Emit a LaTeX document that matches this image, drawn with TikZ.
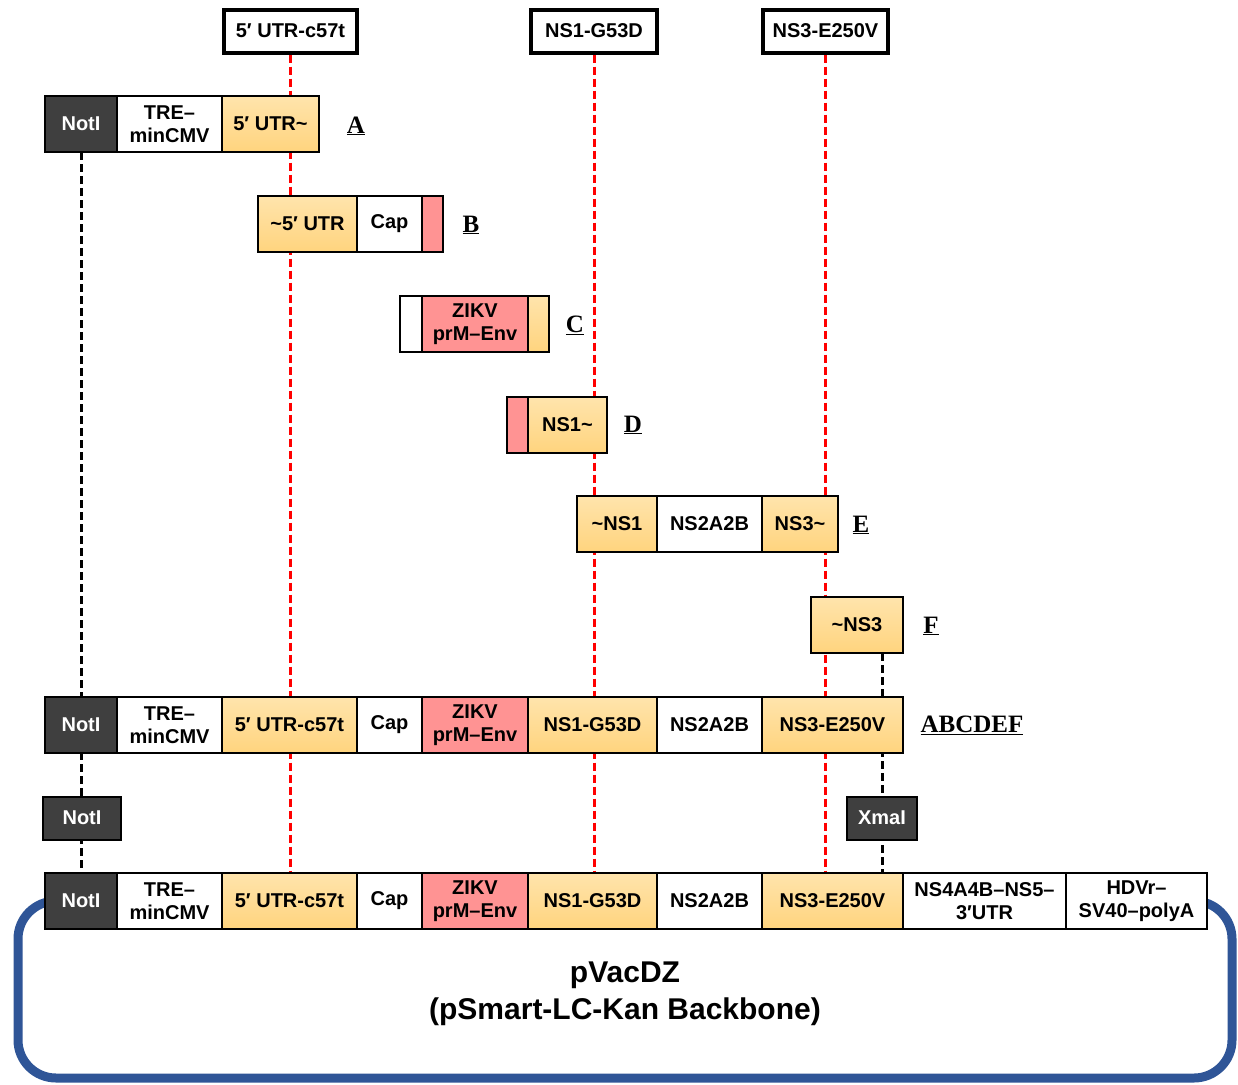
\documentclass[tikz,border=0pt]{standalone}
\usepackage{fontspec}
\setmainfont{Liberation Serif}
\setsansfont{Liberation Sans}
\usetikzlibrary{backgrounds}
\definecolor{ylwtop}{HTML}{FFE4AC}
\definecolor{ylwbot}{HTML}{FFD47E}
\definecolor{pnkfill}{HTML}{FF9393}
\definecolor{cutgray}{HTML}{3F3F3F}
\definecolor{loopblue}{HTML}{2F5597}
\tikzset{
  seg/.style={draw, line width=2pt, anchor=west, outer sep=0pt, inner sep=0pt,
    minimum height=56pt, align=center, font=\sffamily\bfseries\fontsize{20}{23}\selectfont},
  ylw/.style={seg, top color=ylwtop, bottom color=ylwbot},
  pnk/.style={seg, fill=pnkfill},
  wht/.style={seg, fill=white},
  cut/.style={seg, fill=cutgray, text=white},
  site/.style={draw, line width=4pt, fill=white, inner sep=0pt, minimum height=43pt,
    font=\sffamily\bfseries\fontsize{20}{23}\selectfont},
  lbl/.style={font=\rmfamily\bfseries\fontsize{25}{25}\selectfont},
  mutline/.style={red, line width=3pt, dash pattern=on 8pt off 4pt},
  cutline/.style={black, line width=3pt, dash pattern=on 8pt off 4pt},
  loopline/.style={loopblue, line width=9pt, rounded corners=38pt}
}
\begin{document}
\begin{tikzpicture}[x=1pt, y=-1pt]
  \useasboundingbox (0,0) rectangle (1238,1084);

  % mutation sites
  \node[site, minimum width=133pt] (t1) at (290.5,31) {5′ UTR-c57t};
  \node[site, minimum width=126pt] (t2) at (594,31) {NS1-G53D};
  \node[site, minimum width=125pt] (t3) at (825.5,31) {NS3-E250V};

  % fragment A
  \node[cut, minimum width=72pt] (a1) at (45,124) {NotI};
  \node[wht, minimum width=105pt] (a2) at (117,124) {TRE–\\minCMV};
  \node[ylw, minimum width=97pt] (a3) at (222,124) {5′ UTR\textasciitilde};
  \node[lbl] (la) at (356,126) {\underline{A}};

  % fragment B
  \node[ylw, minimum width=99pt] (b1) at (258,224) {\textasciitilde5′ UTR};
  \node[wht, minimum width=65pt] (b2) at (357,224) {Cap};
  \node[pnk, minimum width=21pt] (b3) at (422,224) {};
  \node[lbl] (lb) at (471,225) {\underline{B}};

  % fragment C
  \node[wht, minimum width=22pt] (c1) at (400,324) {};
  \node[pnk, minimum width=106pt] (c2) at (422,324) {ZIKV\\prM–Env};
  \node[ylw, minimum width=21pt] (c3) at (528,324) {};
  \node[lbl] (lc) at (575,325) {\underline{C}};

  % fragment D
  \node[pnk, minimum width=21pt] (d1) at (507,425) {};
  \node[ylw, minimum width=79pt] (d2) at (528,425) {NS1\textasciitilde};
  \node[lbl] (ld) at (633,425) {\underline{D}};

  % fragment E
  \node[ylw, minimum width=80pt] (e1) at (577,524) {\textasciitilde NS1};
  \node[wht, minimum width=105pt] (e2) at (657,524) {NS2A2B};
  \node[ylw, minimum width=76pt] (e3) at (762,524) {NS3\textasciitilde};
  \node[lbl] (le) at (861,525) {\underline{E}};

  % fragment F
  \node[ylw, minimum width=92pt] (f1) at (811,625) {\textasciitilde NS3};
  \node[lbl] (lf) at (931,626) {\underline{F}};

  % assembled ABCDEF
  \node[cut, minimum width=72pt] (r1) at (45,725) {NotI};
  \node[wht, minimum width=105pt] (r2) at (117,725) {TRE–\\minCMV};
  \node[ylw, minimum width=135pt] (r3) at (222,725) {5′ UTR-c57t};
  \node[wht, minimum width=65pt] (r4) at (357,725) {Cap};
  \node[pnk, minimum width=106pt] (r5) at (422,725) {ZIKV\\prM–Env};
  \node[ylw, minimum width=129pt] (r6) at (528,725) {NS1-G53D};
  \node[wht, minimum width=105pt] (r7) at (657,725) {NS2A2B};
  \node[ylw, minimum width=141pt] (r8) at (762,725) {NS3-E250V};
  \node[lbl] (lr) at (972,725) {\underline{ABCDEF}};

  % cloning sites
  \node[cut, minimum width=78pt, minimum height=43pt] (m1) at (43,818) {NotI};
  \node[cut, minimum width=70pt, minimum height=43pt] (m2) at (847,818) {XmaI};

  % final plasmid
  \node[cut, minimum width=72pt] (z1) at (45,901) {NotI};
  \node[wht, minimum width=105pt] (z2) at (117,901) {TRE–\\minCMV};
  \node[ylw, minimum width=135pt] (z3) at (222,901) {5′ UTR-c57t};
  \node[wht, minimum width=65pt] (z4) at (357,901) {Cap};
  \node[pnk, minimum width=106pt] (z5) at (422,901) {ZIKV\\prM–Env};
  \node[ylw, minimum width=129pt] (z6) at (528,901) {NS1-G53D};
  \node[wht, minimum width=105pt] (z7) at (657,901) {NS2A2B};
  \node[ylw, minimum width=141pt] (z8) at (762,901) {NS3-E250V};
  \node[wht, minimum width=163pt] (z9) at (903,901) {NS4A4B–NS5–\\3′UTR};
  \node[wht, minimum width=141pt] (z10) at (1066,901) {HDVr–\\SV40–polyA};

  \node[align=center, font=\sffamily\bfseries\fontsize{30}{37}\selectfont] (pv) at (625,994)
    {pVacDZ\\(pSmart-LC-Kan Backbone)};

  \begin{scope}[on background layer]
    % backbone loop
    \draw[loopline] (18,901) rectangle (1232,1078);
    % guide lines
    \draw[mutline] (t1.south) -- (t1.south |- z3.north);
    \draw[mutline] (t2.south) -- (t2.south |- z6.north);
    \draw[mutline] (t3.south) -- (t3.south |- z8.north);
    \draw[cutline] (a1.south) -- (z1.north);
    \draw[cutline] (m2 |- f1.south) -- (m2 |- z8.north);
  \end{scope}
\end{tikzpicture}
\end{document}
